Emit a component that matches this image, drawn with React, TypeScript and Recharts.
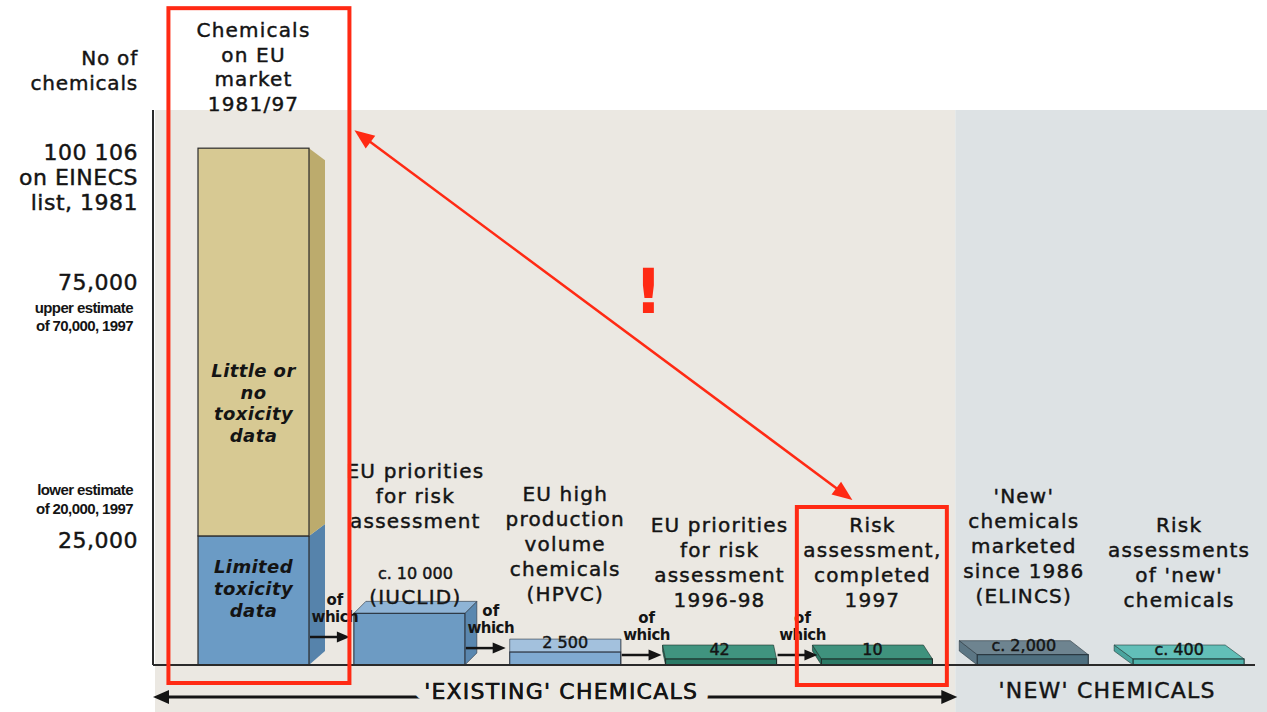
import React from "react";
import { BarChart, Bar, XAxis, YAxis, ReferenceArea, ReferenceLine } from "recharts";

// ---- data ----
const categories = ["market", "iuclid", "hpvc", "priorities", "assessed", "elincs", "newAssessed"];

const headers: string[][] = [
  ["Chemicals", "on EU", "market", "1981/97"],
  ["EU priorities", "for risk", "assessment"],
  ["EU high", "production", "volume", "chemicals", "(HPVC)"],
  ["EU priorities", "for risk", "assessment", "1996-98"],
  ["Risk", "assessment,", "completed", "1997"],
  ["'New'", "chemicals", "marketed", "since 1986", "(ELINCS)"],
  ["Risk", "assessments", "of 'new'", "chemicals"],
];

// EINECS stack: limited vs little/no toxicity data
const limitedTox = [25000, null, null, null, null, null, null];
const littleTox = [75106, null, null, null, null, null, null];
const limitedNote = ["Limited", "toxicity", "data"];
const littleNote = ["Little or", "no", "toxicity", "data"];

const counts = [null, 10000, 2500, 42, 10, 2000, 400];
const countLabels = ["", "c. 10 000", "2 500", "42", "10", "c. 2,000", "c. 400"];
const sourceTags = ["", "(IUCLID)", "", "", "", "", ""];
const ofWhich = [false, true, true, true, true, false, false];

const yTicks = [100106, 75000, 25000];
const yTickLabels = ["100 106", "75,000", "25,000"];
const yTickNotes = [
  ["on EINECS", "list, 1981"],
  ["upper estimate", "of 70,000, 1997"],
  ["lower estimate", "of 20,000, 1997"],
];
const axisTitle = ["No of", "chemicals"];
const groupLabels = ["'EXISTING' CHEMICALS", "'NEW' CHEMICALS"];

const data = categories.map((name, i) => ({
  name,
  limited: limitedTox[i],
  little: littleTox[i],
  count: counts[i],
}));

// ---- layout & style ----
const W = 1267;
const H = 712;
const PLOT_TOP = 110;
const AXIS_W = 153;
const AXIS_H = 47;
const PAD_LEFT = 23;
const BAR = 111;
const BAND = (W - AXIS_W - PAD_LEFT) / categories.length;
const Y_MAX = 107500;
const Y_STRIP = -(AXIS_H / (H - PLOT_TOP - AXIS_H)) * Y_MAX;

const SANS = "'DejaVu Sans', sans-serif";
const ARIAL = "'Liberation Sans', Arial, sans-serif";
const INK = "#141414";
const RED = "#ff2a14";
const BEIGE = "#ebe8e2";
const SLATE = "#dde2e4";
// slight outline so the regular face reads as a medium weight
const HEAVY = { stroke: INK, strokeWidth: 0.45 };

const segmentStyles = {
  limited: { front: "#6b9bc5", side: "#5683ab" },
  little: { front: "#d7c993", side: "#bcab6d" },
};

const blockStyles: Record<string, { front: string; top: string; side: string; line: string; dx: number; dy: number }> = {
  iuclid: { front: "#6d9bc3", top: "#8fb4d6", side: "#5a87af", line: "#2b3440", dx: 12, dy: -12 },
  hpvc: { front: "#80aad1", top: "#a3c1dd", side: "#80aad1", line: "#2b3440", dx: 0, dy: -13 },
  priorities: { front: "#2a7a66", top: "#40947f", side: "#2a7a66", line: "#1d2f2a", dx: -3, dy: -14 },
  assessed: { front: "#2c7b67", top: "#3f927d", side: "#2c7b67", line: "#1d2f2a", dx: -9, dy: -14 },
  elincs: { front: "#4e6f7f", top: "#6e8490", side: "#5c7684", line: "#26343c", dx: -18, dy: -14 },
  newAssessed: { front: "#4fb3ac", top: "#62bfb8", side: "#4aa49e", line: "#1f3a38", dx: -19, dy: -14 },
};

const tickNoteStyle: Record<number, "bigBelow" | "smallBelow" | "smallAbove"> = {
  100106: "bigBelow",
  75000: "smallBelow",
  25000: "smallAbove",
};

type StackProps = {
  lines: string[];
  cx: number;
  last: number;
  step?: number;
  size?: number;
  spacing?: number;
  weight?: number;
  italic?: boolean;
  heavy?: boolean;
};

function TextStack({ lines, cx, last, step = 25, size = 20, spacing = 1.2, weight = 400, italic = false, heavy = true }: StackProps) {
  return (
    <g>
      {lines.map((t, k) => (
        <text
          key={k}
          x={cx}
          y={last - (lines.length - 1 - k) * step}
          textAnchor="middle"
          fontFamily={SANS}
          fontSize={size}
          letterSpacing={spacing}
          fontWeight={weight}
          fontStyle={italic ? "italic" : "normal"}
          fill={INK}
          {...(heavy ? HEAVY : {})}
        >
          {t}
        </text>
      ))}
    </g>
  );
}

function headPoints(tx: number, ty: number, fx: number, fy: number, len: number, half: number) {
  const a = Math.atan2(ty - fy, tx - fx);
  const bx = tx - len * Math.cos(a);
  const by = ty - len * Math.sin(a);
  const px = -Math.sin(a) * half;
  const py = Math.cos(a) * half;
  return `${tx},${ty} ${bx + px},${by + py} ${bx - px},${by - py}`;
}

// stacked EINECS column with its slanted side face
function makeSegment(kind: "limited" | "little") {
  return (props: any) => {
    const { x, y, width: w, height: h, payload } = props;
    const i = categories.indexOf(payload?.name);
    if (i < 0 || !h) return null;
    const isTop = kind === "little";
    const st = segmentStyles[kind];
    const sTop = y + (isTop ? 12 : -12);
    const sBot = y + h + (isTop ? -12 : -14);
    const cx = x + w / 2;
    return (
      <g>
        <polygon points={`${x + w},${y} ${x + w + 16},${sTop} ${x + w + 16},${sBot} ${x + w},${y + h}`} fill={st.side} />
        <rect x={x} y={y} width={w} height={h} fill={st.front} stroke="#2b2b2b" strokeWidth={1.2} />
        {isTop ? (
          <>
            <TextStack lines={littleNote} cx={cx} last={y + h - 94} step={21.7} size={18} spacing={0.4} weight={700} italic heavy={false} />
            <TextStack lines={headers[i]} cx={cx} last={y - 37} step={24.7} />
          </>
        ) : (
          <TextStack lines={limitedNote} cx={cx} last={y + 37 + (limitedNote.length - 1) * 22} step={22} size={18} spacing={0.4} weight={700} italic heavy={false} />
        )}
      </g>
    );
  };
}

function CountShape(props: any) {
  const { x, y, width: w, height: h, payload } = props;
  const i = categories.indexOf(payload?.name);
  if (i < 0 || counts[i] == null || !h) return null;
  const st = blockStyles[categories[i]];
  const { dx, dy } = st;
  const base = y + h;
  const faceTop = y + dy;
  const cx = x + w / 2 + dx / 2;
  const top = `${x},${y} ${x + w},${y} ${x + w + dx},${faceTop} ${x + dx},${faceTop}`;
  const side =
    dx >= 0
      ? `${x + w},${y} ${x + w + dx},${faceTop} ${x + w + dx},${base + dy} ${x + w},${base}`
      : `${x},${y} ${x + dx},${faceTop} ${x + dx},${base + dy} ${x},${base}`;

  let headerLast: number;
  let valueEl: React.ReactNode;
  if (sourceTags[i]) {
    valueEl = (
      <>
        <text x={cx} y={faceTop - 22} textAnchor="middle" fontFamily={SANS} fontSize={16} fill={INK} {...HEAVY}>{countLabels[i]}</text>
        <text x={cx} y={faceTop + 3} textAnchor="middle" fontFamily={SANS} fontSize={20} letterSpacing={1.2} fill={INK} {...HEAVY}>{sourceTags[i]}</text>
      </>
    );
    headerLast = faceTop - 73;
  } else {
    valueEl = (
      <text x={cx} y={y - 4} textAnchor="middle" fontFamily={SANS} fontSize={16} fill={INK} {...HEAVY}>{countLabels[i]}</text>
    );
    headerLast = faceTop - 38;
  }

  let arrow: React.ReactNode = null;
  if (ofWhich[i]) {
    const ax0 = x - (BAND - BAR) + 1;
    const ax1 = x - 4;
    const ay = Math.max(y - 4, base - 28);
    const tx = (ax0 + ax1) / 2 + 5;
    arrow = (
      <g>
        <line x1={ax0} y1={ay} x2={ax1 - 10} y2={ay} stroke={INK} strokeWidth={2.5} />
        <polygon points={headPoints(ax1, ay, ax0, ay, 13, 5.5)} fill={INK} />
        <text x={tx} y={ay - 32} textAnchor="middle" fontFamily={SANS} fontSize={15} fontWeight={700} fill={INK}>of</text>
        <text x={tx} y={ay - 15} textAnchor="middle" fontFamily={SANS} fontSize={15} fontWeight={700} letterSpacing={-0.5} fill={INK}>which</text>
      </g>
    );
  }

  return (
    <g>
      <polygon points={side} fill={st.side} stroke={st.line} strokeWidth={0.6} />
      <polygon points={top} fill={st.top} stroke={st.line} strokeWidth={0.6} />
      <rect x={x} y={y} width={w} height={h} fill={st.front} stroke={st.line} strokeWidth={1.1} />
      {valueEl}
      <TextStack lines={headers[i]} cx={cx} last={headerLast} />
      {arrow}
    </g>
  );
}

function YTick(props: any) {
  const { x, y, payload } = props;
  const k = yTicks.indexOf(payload?.value);
  if (k < 0) return null;
  const main = y + 12;
  const notes = yTickNotes[k];
  const mode = tickNoteStyle[yTicks[k]];
  const big = { fontFamily: SANS, fontSize: 22, letterSpacing: 0.5, fill: INK, ...HEAVY };
  const small = { fontFamily: ARIAL, fontSize: 15, fontWeight: 700, letterSpacing: -0.6, fill: INK };
  return (
    <g>
      <text x={x} y={main} textAnchor="end" {...big}>{yTickLabels[k]}</text>
      {notes.map((t, n) => {
        if (mode === "bigBelow")
          return <text key={n} x={x} y={main + 25 * (n + 1)} textAnchor="end" {...big}>{t}</text>;
        const yy = mode === "smallBelow" ? main + 23 + 18 * n : main - 53 + 19 * n;
        return <text key={n} x={x - 5} y={yy} textAnchor="end" {...small}>{t}</text>;
      })}
    </g>
  );
}

function AxisTitle(props: any) {
  const vb = props.viewBox ?? { x: 0, y: PLOT_TOP, width: AXIS_W };
  const right = vb.x + vb.width - 15;
  return (
    <g>
      {axisTitle.map((t, k) => (
        <text key={k} x={right} y={vb.y - 45 + k * 25} textAnchor="end" fontFamily={SANS} fontSize={20} letterSpacing={0.8} fill={INK} {...HEAVY}>
          {t}
        </text>
      ))}
    </g>
  );
}

function ExistingBackdrop(p: any) {
  return <rect x={p.x - PAD_LEFT + 2} y={p.y} width={p.width + PAD_LEFT - 2} height={p.height} fill={BEIGE} />;
}

function NewBackdrop(p: any) {
  return <rect x={p.x} y={p.y} width={p.width} height={p.height} fill={SLATE} />;
}

function ExistingStrip(p: any) {
  const L = p.x - PAD_LEFT;
  const R = p.x + p.width + 2;
  const ay = p.y + 32;
  return (
    <g>
      <line x1={L + 12} y1={ay} x2={R - 12} y2={ay} stroke={INK} strokeWidth={3} />
      <polygon points={headPoints(L, ay, R, ay, 16, 7)} fill={INK} />
      <polygon points={headPoints(R, ay, L, ay, 16, 7)} fill={INK} />
      <text
        x={(L + R) / 2 + 6}
        y={p.y + 34}
        textAnchor="middle"
        fontFamily={SANS}
        fontSize={22}
        letterSpacing={1.2}
        fill={INK}
        stroke={BEIGE}
        strokeWidth={24}
        strokeLinejoin="round"
        paintOrder="stroke"
      >
        {groupLabels[0]}
      </text>
      <text x={(L + R) / 2 + 6} y={p.y + 34} textAnchor="middle" fontFamily={SANS} fontSize={22} letterSpacing={1.2} fill={INK} {...HEAVY}>
        {groupLabels[0]}
      </text>
    </g>
  );
}

function NewStrip(p: any) {
  return (
    <text x={p.x + p.width / 2 - 4} y={p.y + 33} textAnchor="middle" fontFamily={SANS} fontSize={22} letterSpacing={1.2} fill={INK} {...HEAVY}>
      {groupLabels[1]}
    </text>
  );
}

function Baseline(p: any) {
  return <line x1={p.x1} y1={p.y1} x2={p.x2 - 12} y2={p.y2} stroke="#2a2a2a" strokeWidth={2} />;
}

// red callout: box round the EINECS column, box round the completed assessments, and the arrow between
function Callout(p: any) {
  const { x1, y1, x2, y2 } = p;
  const b1 = { l: x1 - BAR / 2 - 30, r: x1 + BAR / 2 + 40, t: y1 - 140, b: y2 + 18 };
  const b2 = { l: x2 - BAR / 2 - 25, r: x2 + BAR / 2 + 14, t: y2 - 158, b: y2 + 20 };
  const s = { x: b1.r + 5, y: y1 - 18 };
  const e = { x: x2 - 25, y: b2.t - 7 };
  const len = Math.hypot(e.x - s.x, e.y - s.y);
  const ux = (e.x - s.x) / len;
  const uy = (e.y - s.y) / len;
  return (
    <g>
      <rect x={b1.l} y={b1.t} width={b1.r - b1.l} height={b1.b - b1.t} fill="none" stroke={RED} strokeWidth={4} />
      <rect x={b2.l} y={b2.t} width={b2.r - b2.l} height={b2.b - b2.t} fill="none" stroke={RED} strokeWidth={4} />
      <line x1={s.x + ux * 14} y1={s.y + uy * 14} x2={e.x - ux * 14} y2={e.y - uy * 14} stroke={RED} strokeWidth={2.5} />
      <polygon points={headPoints(s.x, s.y, e.x, e.y, 20, 8)} fill={RED} />
      <polygon points={headPoints(e.x, e.y, s.x, s.y, 20, 8)} fill={RED} />
      <text x={(s.x + e.x) / 2 + 45} y={(s.y + e.y) / 2 - 2} textAnchor="middle" fontFamily={SANS} fontSize={62} fontWeight={700} fill={RED}>
        !
      </text>
    </g>
  );
}

export default function App() {
  const total = (limitedTox[0] ?? 0) + (littleTox[0] ?? 0);
  return (
    <div style={{ position: "absolute", left: 0, top: 0, width: W, height: H, background: "#fff" }}>
      <BarChart width={W} height={H} data={data} margin={{ top: PLOT_TOP, right: 0, bottom: 0, left: 0 }} barSize={BAR}>
        <ReferenceArea x1="market" x2="assessed" y1={Y_STRIP} y2={Y_MAX} ifOverflow="visible" shape={ExistingBackdrop} />
        <ReferenceArea x1="elincs" x2="newAssessed" y1={Y_STRIP} y2={Y_MAX} ifOverflow="visible" shape={NewBackdrop} />
        <ReferenceArea x1="market" x2="assessed" y1={Y_STRIP} y2={0} ifOverflow="visible" shape={ExistingStrip} />
        <ReferenceArea x1="elincs" x2="newAssessed" y1={Y_STRIP} y2={0} ifOverflow="visible" shape={NewStrip} />
        <XAxis dataKey="name" height={AXIS_H} tick={false} tickLine={false} axisLine={false} padding={{ left: PAD_LEFT, right: 0 }} />
        <YAxis
          width={AXIS_W}
          domain={[0, Y_MAX]}
          ticks={yTicks}
          interval={0}
          tickLine={false}
          tickSize={0}
          tickMargin={15}
          axisLine={{ stroke: "#2a2a2a", strokeWidth: 2 }}
          tick={(p: any) => <YTick {...p} />}
          label={<AxisTitle />}
        />
        <ReferenceLine y={0} ifOverflow="visible" shape={Baseline} />
        <Bar dataKey="limited" stackId="s" shape={makeSegment("limited")} isAnimationActive={false} />
        <Bar dataKey="little" stackId="s" shape={makeSegment("little")} isAnimationActive={false} />
        <Bar
          dataKey="count"
          stackId="s"
          shape={CountShape}
          minPointSize={(v: any, i: number) => (counts[i] == null ? 0 : 6)}
          isAnimationActive={false}
        />
        <ReferenceLine
          segment={[
            { x: "market", y: total },
            { x: "assessed", y: 0 },
          ]}
          ifOverflow="visible"
          shape={Callout}
        />
      </BarChart>
    </div>
  );
}
